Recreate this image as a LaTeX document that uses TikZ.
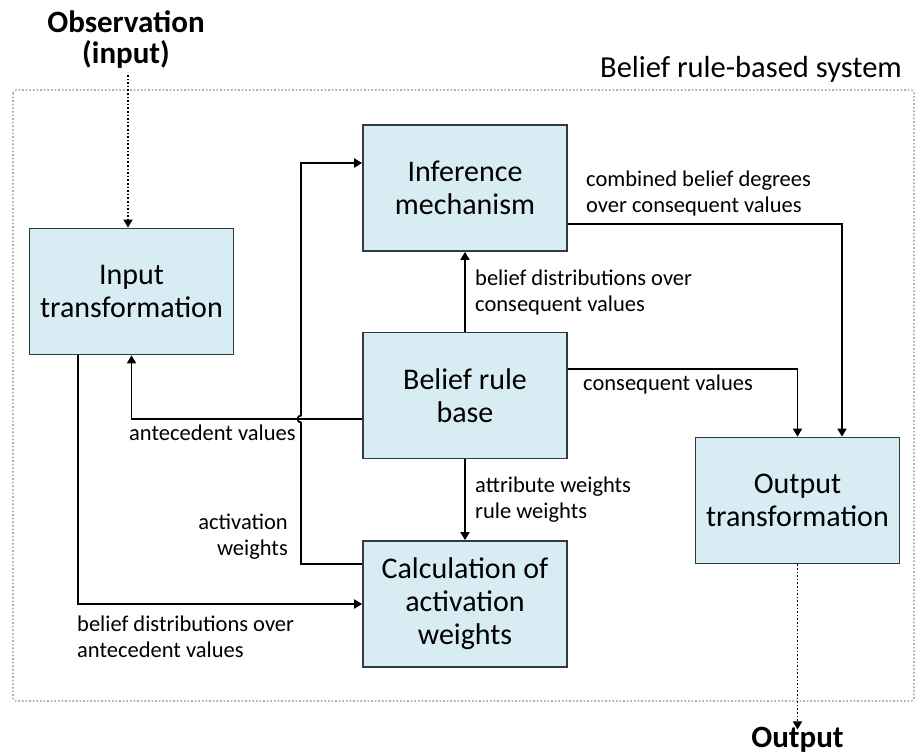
\documentclass[tikz,border=0pt]{standalone}
\usepackage{fontspec}
\setmainfont{Carlito}
\usetikzlibrary{arrows.meta}

\definecolor{boxfill}{HTML}{D7ECF3}
\definecolor{boxline}{HTML}{2E3B40}
\definecolor{framegray}{HTML}{B0B0B0}

\tikzset{
  blockbox/.style={draw=boxline, fill=boxfill, line width=1.7pt,
    minimum width=204pt, minimum height=126pt, align=center,
    inner sep=0pt, font=\fontsize{30}{33}\selectfont},
  flow/.style={line width=1.8pt, -{Triangle[width=9pt,length=8pt]}},
  io/.style={line width=1.6pt, dotted, -{Triangle[width=9pt,length=8pt]}},
  lbl/.style={font=\fontsize{22.5}{25.5}\selectfont, align=left, inner sep=0pt},
  ttl/.style={font=\bfseries\fontsize{31}{31}\selectfont, align=center, inner sep=0pt}
}

\begin{document}
\begin{tikzpicture}[x=1pt, y=-1pt]
  \useasboundingbox (0,0) rectangle (916,753);

  % system frame
  \draw[framegray, line width=1.6pt, dotted, rounded corners=3pt]
    (13,90) rectangle (914,701);
  \node[font=\fontsize{30.5}{34}\selectfont, anchor=base east, inner sep=0pt]
    (sys) at (902,77) {Belief rule-based system};

  % blocks
  \node[blockbox] (inp)  at (131.5,291.5) {Input\\transformation};
  \node[blockbox] (inf)  at (465,188)     {Inference\\mechanism};
  \node[blockbox] (brb)  at (465,395.5)   {Belief rule\\base};
  \node[blockbox] (calc) at (465,604)     {Calculation of\\activation\\weights};
  \node[blockbox] (out)  at (797.5,500.5) {Output\\transformation};

  % external input / output (base anchor = baseline of the last line)
  \node[ttl, anchor=base] (obs) at (126,63) {Observation\\(input)};
  \node[ttl, anchor=base] (res) at (797.5,747) {Output};
  \coordinate (obsend) at (128,75);
  \draw[io] (obsend) -- (obsend |- inp.north);
  \draw[io] (out.south) -- ([yshift=-3pt]res.north);

  % connectors
  \draw[flow] ([yshift=-36pt]inf.east) -| ([xshift=44.5pt]out.north);
  \draw[flow] (brb.north) -- (inf.south);
  \draw[flow] (brb.south) -- (calc.north);
  \draw[flow] ([yshift=26.5pt]brb.east) -| (out.north);
  \draw[flow] ([yshift=-23.5pt]brb.west) -| (inp.south);
  \draw[flow] ([xshift=-53.5pt]inp.south) |- (calc.west);

  % activation weights, hopping over the antecedent line
  \coordinate (hop) at (301,419);
  \draw[flow] ([yshift=40pt]calc.west) -| ([yshift=-3.5pt]hop)
    arc[start angle=270, end angle=90, radius=3.5pt]
    |- ([yshift=25pt]inf.west);

  % labels (base anchor = baseline of the last line)
  \node[lbl, anchor=base west] (l1) at (586,212)
    {combined belief degrees\\over consequent values};
  \node[lbl, anchor=base west] (l2) at (475,311)
    {belief distributions over\\consequent values};
  \node[lbl, anchor=base west] (l3) at (583,390) {consequent values};
  \node[lbl, anchor=base west] (l4) at (129,440) {antecedent values};
  \node[lbl, anchor=base west] (l5) at (475,518) {attribute weights\\rule weights};
  \node[lbl, anchor=base east, align=right] (l6) at (288,555) {activation\\weights};
  \node[lbl, anchor=base west] (l7) at (77,657)
    {belief distributions over\\antecedent values};
\end{tikzpicture}
\end{document}
